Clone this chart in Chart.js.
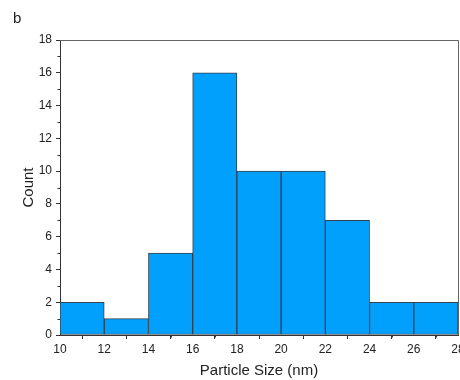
<!DOCTYPE html>
<html>
<head>
<meta charset="utf-8">
<script src="https://cdn.jsdelivr.net/npm/chart.js@4"></script>
<style>
html,body{margin:0;padding:0;overflow:hidden;background:#fff;width:460px;height:380px;}
canvas{display:block;}
</style>
</head>
<body>
<canvas id="c" width="480" height="380"></canvas>
<script>
const binCenters = [11, 13, 15, 17, 19, 21, 23, 25, 27];
const counts = [2, 1, 5, 16, 10, 10, 7, 2, 2];
const xTicks = [10, 12, 14, 16, 18, 20, 22, 24, 26, 28];
const yTicks = [0, 2, 4, 6, 8, 10, 12, 14, 16, 18];
const panelLabel = 'b';
const xTitle = 'Particle Size (nm)';
const yTitle = 'Count';

const FONT = "'Liberation Sans', Arial, sans-serif";
const AX = '#333';

const extras = {
  id: 'extras',
  afterDraw(chart) {
    const ctx = chart.ctx, a = chart.chartArea;
    const xs = chart.scales.x, ys = chart.scales.y;
    ctx.save();
    // frame top & right
    ctx.strokeStyle = '#666';
    ctx.lineWidth = 1;
    ctx.beginPath();
    ctx.moveTo(a.left, a.top + 0.5);
    ctx.lineTo(a.right + 0.5, a.top + 0.5);
    ctx.lineTo(a.right + 0.5, a.bottom);
    ctx.stroke();
    // minor ticks
    ctx.strokeStyle = AX;
    ctx.beginPath();
    for (let i = 0; i < xTicks.length - 1; i++) {
      const v = (xTicks[i] + xTicks[i + 1]) / 2;
      const px = Math.round(xs.getPixelForValue(v)) + 0.5;
      ctx.moveTo(px, a.bottom);
      ctx.lineTo(px, a.bottom + 2.5);
    }
    for (let i = 0; i < yTicks.length - 1; i++) {
      const v = (yTicks[i] + yTicks[i + 1]) / 2;
      const py = Math.round(ys.getPixelForValue(v)) + 0.5;
      ctx.moveTo(a.left, py);
      ctx.lineTo(a.left - 2.5, py);
    }
    ctx.stroke();
    // panel label
    ctx.fillStyle = '#222';
    ctx.font = '15px ' + FONT;
    ctx.textBaseline = 'top';
    ctx.fillText(panelLabel, 13, 11);
    ctx.restore();
  }
};

new Chart(document.getElementById('c'), {
  type: 'bar',
  data: {
    datasets: [{
      data: binCenters.map((x, i) => ({x: x, y: counts[i]})),
      backgroundColor: '#00A0FC',
      borderColor: '#34414f',
      borderWidth: 1,
      borderSkipped: false,
      barPercentage: 1,
      categoryPercentage: 1
    }]
  },
  options: {
    responsive: false,
    animation: false,
    layout: {padding: {left: 0, right: 22, top: 40, bottom: 0}},
    plugins: {legend: {display: false}, tooltip: {enabled: false}},
    scales: {
      x: {
        type: 'linear',
        min: 10, max: 28,
        offset: false,
        afterBuildTicks: s => { s.ticks = xTicks.map(v => ({value: v})); },
        afterFit: s => { s.height = 45; },
        grid: {drawOnChartArea: false, tickLength: 4, tickColor: AX},
        border: {color: AX, width: 1},
        ticks: {color: '#222', font: {family: FONT, size: 12}, padding: 3, maxRotation: 0, autoSkip: false},
        title: {display: true, text: xTitle, color: '#222', font: {family: FONT, size: 15}, padding: {top: 0, bottom: 0}}
      },
      y: {
        min: 0, max: 18,
        afterBuildTicks: s => { s.ticks = yTicks.map(v => ({value: v})); },
        afterFit: s => { s.width = 60; },
        grid: {drawOnChartArea: false, tickLength: 4, tickColor: AX},
        border: {color: AX, width: 1},
        ticks: {color: '#222', font: {family: FONT, size: 12}, padding: 4, autoSkip: false},
        title: {display: true, text: yTitle, color: '#222', font: {family: FONT, size: 15}, padding: {top: 20, bottom: 0}}
      }
    }
  },
  plugins: [extras]
});
</script>
</body>
</html>
